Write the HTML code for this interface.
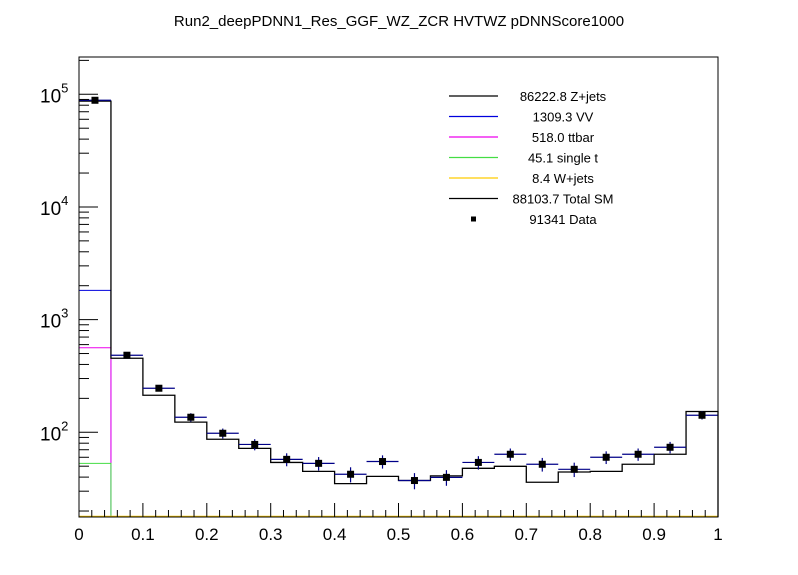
<!DOCTYPE html>
<html><head><meta charset="utf-8"><style>
body{margin:0;background:#fff}
svg{display:block;font-family:"Liberation Sans",sans-serif}
</style></head><body>
<svg id="c" width="798" height="575"></svg>
<script>
const binEdges=[0,0.05,0.1,0.15,0.2,0.25,0.3,0.35,0.4,0.45,0.5,0.55,0.6,0.65,0.7,0.75,0.8,0.85,0.9,0.95,1.0];
const totalSM=[87000,454,213,123,86.7,72,54,45,35,40.6,37.3,41,47.9,49.9,36,44.4,45,52,63.8,153];
const dataVals=[88500,483,246,136,98,78,57.5,53,42.4,55,37.3,39.8,54,63.8,52,46.9,60,63.8,73.6,141.6];
const vvCum=[1820];
const ttbarCum=[563];
const singletCum=[53];
const xTicks=["0","0.1","0.2","0.3","0.4","0.5","0.6","0.7","0.8","0.9","1"];
const legendLabels=["86222.8 Z+jets","1309.3 VV","518.0 ttbar","45.1 single t","8.4 W+jets","88103.7 Total SM","91341 Data"];
const legendColors=["#000","#0000dd","#ee00ee","#44dd44","#ffcc00","#000",null];

const L=79,R=718,T=57,B=517;
const LMIN=1.248,LMAX=5.331;
const xs=v=>L+(R-L)*v;
const ys=v=>B-(B-T)*(Math.log10(v)-LMIN)/(LMAX-LMIN);
const svg=document.getElementById('c');
const NS='http://www.w3.org/2000/svg';
function mk(t,a,parent){const e=document.createElementNS(NS,t);for(const k in a)e.setAttribute(k,a[k]);(parent||svg).appendChild(e);return e;}
function clampY(v){return Math.min(B,Math.max(T,ys(v)));}

const title=mk('text',{x:399,y:26,'text-anchor':'middle','font-size':'15'});
title.textContent='Run2_deepPDNN1_Res_GGF_WZ_ZCR HVTWZ  pDNNScore1000';



// stacked first bin components
function stepFirst(vals,color,name){
  const y=clampY(vals[0]);
  const p=mk('path',{d:`M${L},${y}H${xs(binEdges[1])}V${B}`,stroke:color,fill:'none','stroke-width':1});
  
  
}
stepFirst(vvCum,'#0000dd','vv-histogram');
stepFirst(ttbarCum,'#ee00ee','ttbar-histogram');
stepFirst(singletCum,'#44dd44','single-t-histogram');
const wj=mk('line',{x1:L,y1:B-0.5,x2:R,y2:B-0.5,stroke:'#ffcc00','stroke-width':1.5});



// total SM step
let d=`M${L},${ys(totalSM[0])}`;
for(let i=0;i<totalSM.length;i++){d+=`H${xs(binEdges[i+1])}`;if(i+1<totalSM.length)d+=`V${ys(totalSM[i+1])}`;}
d+=`V${B}`;
const tot=mk('path',{d:d,stroke:'#000',fill:'none','stroke-width':1.3});



// data points
for(let i=0;i<dataVals.length;i++){
  const g=mk('g',{});
  
  
  const cx=xs((binEdges[i]+binEdges[i+1])/2),cy=ys(dataVals[i]);
  const err=Math.sqrt(dataVals[i]);
  mk('line',{x1:xs(binEdges[i]),x2:xs(binEdges[i+1]),y1:cy,y2:cy,stroke:'#000088','stroke-width':1.2},g);
  mk('line',{x1:cx,x2:cx,y1:ys(dataVals[i]+err),y2:ys(dataVals[i]-err),stroke:'#000088','stroke-width':1.2},g);
  mk('rect',{x:cx-3.5,y:cy-3.5,width:7,height:7,fill:'#000'},g);
}

// frame
const fr=mk('rect',{x:L,y:T,width:R-L,height:B-T,fill:'none',stroke:'#000','stroke-width':1});



// x ticks
for(let i=0;i<=50;i++){
  const v=i/50,x=xs(v);const maj=i%5==0;
  mk('line',{x1:x,x2:x,y1:B,y2:B-(maj?14:7),stroke:'#000'});
}
xTicks.forEach((t,i)=>{
  const e=mk('text',{x:xs(i/10),y:540,'text-anchor':'middle','font-size':'17'});
  e.textContent=t;
  
  
});
// y ticks
for(let dec=1;dec<=5;dec++){
  for(let m=1;m<10;m++){
    const v=m*Math.pow(10,dec);const lv=Math.log10(v);
    if(lv<LMIN||lv>LMAX)continue;
    const y=ys(v);
    mk('line',{x1:L,x2:L+(m==1?19:10),y1:y,y2:y,stroke:'#000'});
  }
}
[2,3,4,5].forEach(p=>{
  const y=ys(Math.pow(10,p));
  const e=mk('text',{x:40,y:y+8,'font-size':'19'});
  e.innerHTML=`10<tspan font-size="13" dy="-10">${p}</tspan>`;
  
  
});

// legend
legendLabels.forEach((lab,i)=>{
  const y=96+i*20.5;
  const g=mk('g',{});
  
  
  if(legendColors[i])mk('line',{x1:449,x2:498,y1:y,y2:y,stroke:legendColors[i],'stroke-width':1.2},g);
  else mk('rect',{x:471,y:y-2.5,width:5,height:5,fill:'#000'},g);
  const t=mk('text',{x:563,y:y+5,'text-anchor':'middle','font-size':'13'},g);
  t.textContent=lab;
});
</script>
</body></html>
